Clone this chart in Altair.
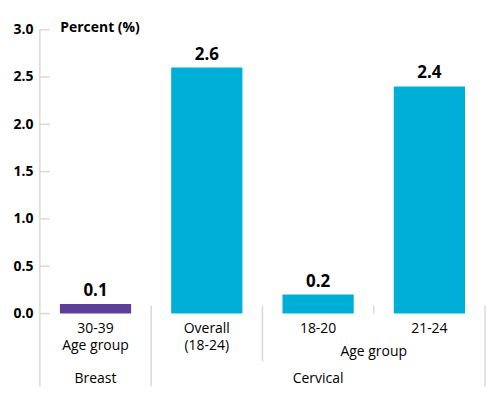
import altair as alt
import pandas as pd

categories = ["30-39 Age group", "Overall (18-24)", "18-20", "21-24"]
label_lines = [["30-39", "Age group"], ["Overall", "(18-24)"], ["18-20"], ["21-24"]]
values = [0.1, 2.6, 0.2, 2.4]
groups = ["Breast", "Cervical", "Cervical", "Cervical"]
y_ticks = [0.0, 0.5, 1.0, 1.5, 2.0, 2.5, 3.0]
colors = ["#5b3f99", "#00afd7", "#00afd7", "#00afd7"]

FONT = "Open Sans"
GRAY = "#d9d9d9"

df = pd.DataFrame({"cat": categories, "value": values, "group": groups,
                   "lines": label_lines, "color": colors})
ticks_df = pd.DataFrame({"v": y_ticks})

xscale = alt.Scale(domain=categories, paddingInner=0, paddingOuter=0)
yscale = alt.Scale(domain=[0, 3], nice=False)

def X(band=0.5, axis=None):
    return alt.X("cat:N", scale=xscale, sort=categories, bandPosition=band, axis=axis)

bars = alt.Chart(df).mark_bar(width={"band": 0.64}).encode(
    x=alt.X("cat:N", scale=xscale, sort=categories,
            axis=alt.Axis(title=None, labels=False, ticks=False, domain=True,
                          domainColor=GRAY, domainWidth=1.5, grid=False)),
    y=alt.Y("value:Q", scale=yscale,
            axis=alt.Axis(values=y_ticks, format=".1f", ticks=False, domain=False, grid=False,
                          labelFont=FONT, labelFontWeight="bold", labelFontSize=14,
                          labelColor="#000", labelPadding=7,
                          title="Percent (%)", titleAngle=0, titleAlign="left",
                          titleBaseline="middle", titleX=20, titleY=-2,
                          titleFont=FONT, titleFontWeight="bold", titleFontSize=14,
                          titleColor="#000")),
    color=alt.Color("color:N", scale=None),
)

value_text = alt.Chart(df).mark_text(font=FONT, fontWeight="bold", fontSize=17,
                                     baseline="alphabetic", dy=-8, color="#000").encode(
    x=X(), y=alt.Y("value:Q", scale=yscale), text=alt.Text("value:Q", format=".1f"))

tick_marks = alt.Chart(ticks_df).mark_rule(color=GRAY, strokeWidth=1.5).encode(
    y=alt.Y("v:Q", scale=yscale), x=alt.value(0), x2=alt.value(10))

def sep(cat, band, y1, y2):
    return alt.Chart(df[df["cat"] == cat]).mark_rule(color=GRAY, strokeWidth=1.5).encode(
        x=X(band), y=alt.value(y1), y2=alt.value(y2))

seps = [
    sep(categories[0], 0, 0, 358),
    sep(categories[1], 0, 277, 358),
    sep(categories[2], 0, 277, 333),
    sep(categories[3], 0, 277, 285),
    sep(categories[3], 1, 277, 358),
]

cat_labels = alt.Chart(df).mark_text(font=FONT, fontSize=14, color="#000",
                                     baseline="middle", lineHeight=17).encode(
    x=X(), y=alt.value(301), text="lines")

age_df = pd.DataFrame({"cat": [categories[2]], "t": ["Age group"]})
age_label = alt.Chart(age_df).mark_text(font=FONT, fontSize=14, color="#000",
                                        baseline="middle").encode(
    x=X(1), y=alt.value(324), text="t:N")

grp_df = pd.DataFrame({"cat": [categories[0], categories[2]], "t": ["Breast", "Cervical"]})
grp_labels = alt.Chart(grp_df).mark_text(font=FONT, fontSize=14, color="#000",
                                         baseline="middle").encode(
    x=X(), y=alt.value(351), text="t:N")

chart = alt.layer(bars, value_text, tick_marks, *seps, cat_labels, age_label, grp_labels).properties(
    width=447, height=285,
    autosize=alt.AutoSizeParams(type="none"),
    padding={"left": 32, "top": 21, "right": 8, "bottom": 75},
).configure_view(stroke=None)

chart.save("out.html", embed_options={"renderer": "svg", "actions": False})
